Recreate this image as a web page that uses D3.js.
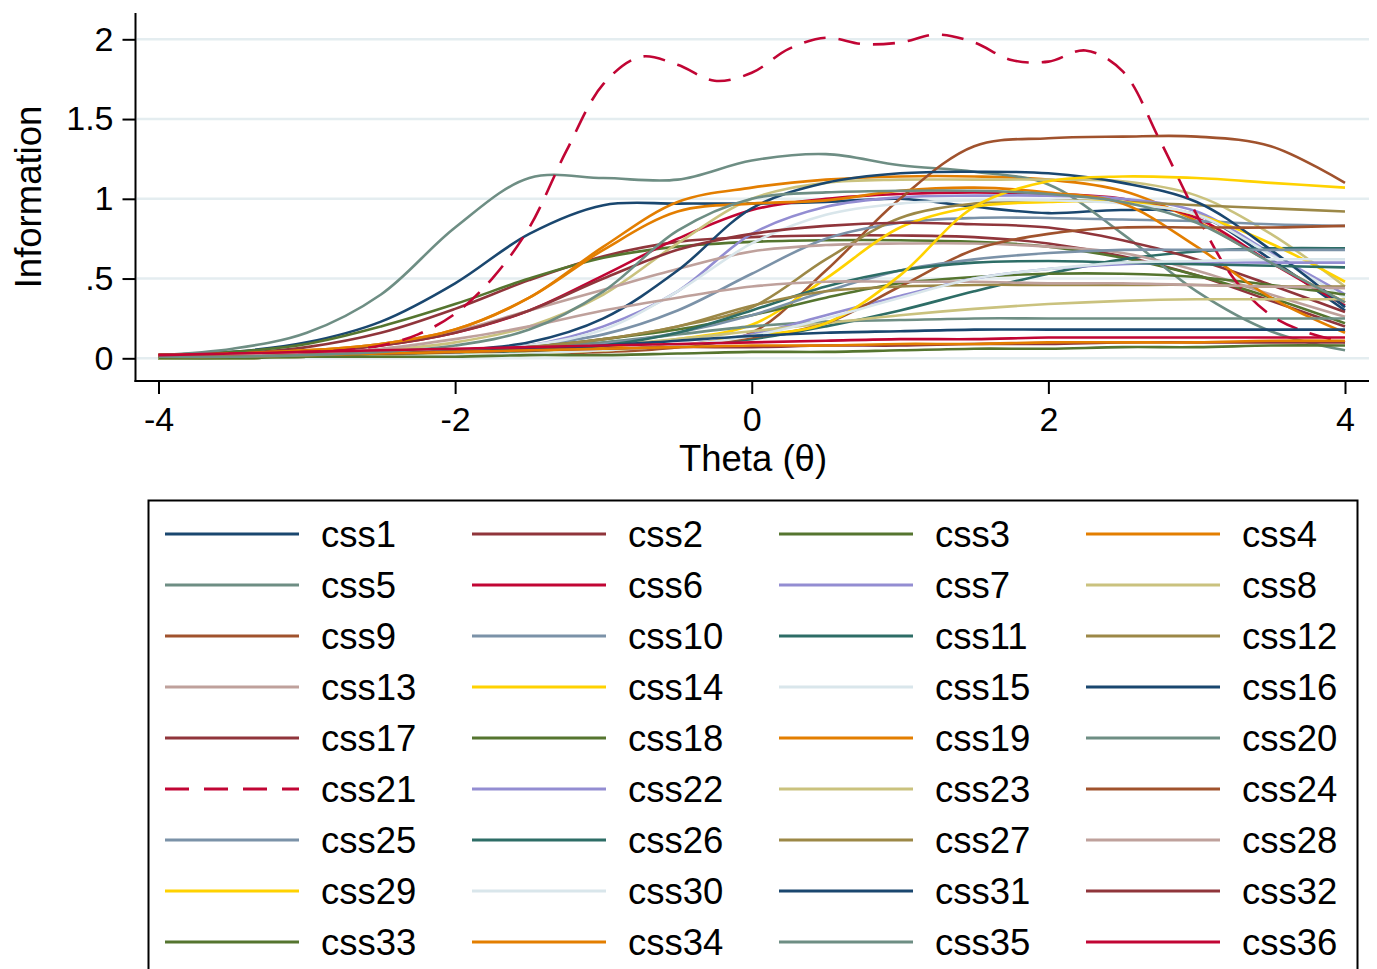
<!DOCTYPE html>
<html><head><meta charset="utf-8">
<script src="https://cdn.jsdelivr.net/npm/d3@7"></script>
<style>
body{margin:0;background:#fff}
svg text{font-family:"Liberation Sans",Arial,Helvetica,sans-serif;fill:#000}
</style>
</head><body>
<svg id="chart" width="1377" height="969"></svg>
<script>
const theta = [-4,-3.5,-3,-2.5,-2,-1.5,-1,-0.5,0,0.5,1,1.5,2,2.5,3,3.5,4];
const thetaFine = [-4,-3.75,-3.5,-3.25,-3,-2.75,-2.5,-2.25,-2,-1.75,-1.5,-1.25,-1,-0.75,-0.5,-0.25,0,0.25,0.5,0.75,1,1.25,1.5,1.75,2,2.25,2.5,2.75,3,3.25,3.5,3.75,4];

const css1 = [0.02,0.04,0.1,0.23,0.47,0.78,0.96,0.97,0.97,0.98,1.0,0.95,0.91,0.93,0.9,0.62,0.3];
const css2 = [0.02,0.03,0.07,0.16,0.31,0.49,0.64,0.73,0.76,0.77,0.77,0.76,0.72,0.64,0.52,0.36,0.2];
const css3 = [0.02,0.04,0.09,0.2,0.34,0.5,0.63,0.7,0.73,0.74,0.74,0.73,0.7,0.63,0.52,0.38,0.22];
const css4 = [0.02,0.03,0.05,0.09,0.18,0.38,0.7,0.98,1.07,1.12,1.14,1.14,1.12,1.05,0.86,0.6,0.35];
const css5 = [0.02,0.06,0.16,0.4,0.82,1.13,1.13,1.12,1.24,1.28,1.21,1.17,1.09,0.78,0.42,0.17,0.05];
const css6 = [0.02,0.02,0.04,0.08,0.16,0.3,0.52,0.75,0.93,1.0,1.03,1.04,1.03,1.0,0.88,0.6,0.33];
const css7 = [0.0,0.01,0.01,0.02,0.04,0.08,0.2,0.42,0.78,0.95,1.01,1.02,1.02,1.0,0.92,0.66,0.4];
const css8 = [0.01,0.01,0.02,0.05,0.1,0.2,0.4,0.72,1.0,1.1,1.12,1.12,1.12,1.11,1.02,0.78,0.45];
const css9 = [0.0,0.0,0.01,0.01,0.02,0.03,0.04,0.07,0.16,0.55,1.0,1.33,1.38,1.39,1.39,1.33,1.1];
const css10 = [0.0,0.01,0.01,0.02,0.04,0.08,0.15,0.3,0.53,0.75,0.85,0.88,0.88,0.87,0.86,0.84,0.83];
const css11 = [0.0,0.0,0.01,0.01,0.02,0.03,0.05,0.08,0.12,0.2,0.3,0.42,0.53,0.62,0.67,0.69,0.69];
const css12 = [0.0,0.01,0.01,0.02,0.04,0.07,0.12,0.2,0.32,0.62,0.88,0.97,0.99,0.98,0.96,0.94,0.92];
const css13 = [0.01,0.02,0.04,0.09,0.17,0.3,0.43,0.56,0.67,0.71,0.72,0.72,0.7,0.66,0.55,0.4,0.26];
const css14 = [0.0,0.0,0.01,0.01,0.02,0.04,0.07,0.12,0.21,0.5,0.82,0.95,0.98,0.98,0.9,0.72,0.48];
const css15 = [0.0,0.01,0.01,0.02,0.04,0.08,0.18,0.42,0.72,0.9,0.97,0.99,0.99,0.97,0.9,0.65,0.38];
const css16 = [0.0,0.01,0.01,0.02,0.05,0.1,0.25,0.55,0.94,1.1,1.16,1.17,1.16,1.1,0.98,0.68,0.32];
const css17 = [0.01,0.02,0.04,0.08,0.16,0.3,0.5,0.68,0.78,0.83,0.85,0.84,0.82,0.74,0.62,0.46,0.29];
const css18 = [0.0,0.01,0.01,0.02,0.04,0.07,0.12,0.18,0.27,0.38,0.47,0.51,0.53,0.53,0.51,0.46,0.4];
const css19 = [0.02,0.03,0.05,0.09,0.18,0.38,0.68,0.92,0.97,0.99,1.05,1.07,1.04,0.97,0.7,0.38,0.16];
const css20 = [0.01,0.01,0.02,0.03,0.05,0.07,0.1,0.15,0.2,0.23,0.24,0.25,0.25,0.25,0.25,0.25,0.25];
const css21 = [0.02,0.02,0.03,0.03,0.04,0.05,0.08,0.15,0.28,0.5,0.82,1.3,1.72,1.89,1.84,1.74,1.79,1.94,2.01,1.97,1.98,2.03,1.98,1.87,1.86,1.93,1.8,1.37,0.9,0.5,0.27,0.16,0.1];
const css22 = [0.0,0.0,0.01,0.01,0.02,0.03,0.05,0.08,0.15,0.27,0.39,0.5,0.56,0.59,0.6,0.6,0.6];
const css23 = [0.0,0.01,0.01,0.02,0.03,0.05,0.08,0.12,0.17,0.22,0.27,0.31,0.34,0.36,0.37,0.37,0.37];
const css24 = [0.0,0.0,0.01,0.01,0.02,0.03,0.05,0.08,0.13,0.22,0.45,0.68,0.78,0.82,0.82,0.82,0.83];
const css25 = [0.0,0.0,0.01,0.02,0.03,0.05,0.09,0.16,0.27,0.42,0.55,0.62,0.66,0.68,0.68,0.68,0.68];
const css26 = [0.0,0.0,0.01,0.01,0.02,0.04,0.08,0.16,0.3,0.45,0.55,0.6,0.61,0.6,0.59,0.58,0.57];
const css27 = [0.0,0.01,0.01,0.02,0.04,0.07,0.12,0.2,0.33,0.42,0.45,0.46,0.46,0.46,0.46,0.45,0.45];
const css28 = [0.01,0.02,0.03,0.06,0.12,0.2,0.3,0.38,0.45,0.48,0.48,0.48,0.47,0.47,0.46,0.45,0.44];
const css29 = [0.0,0.0,0.01,0.01,0.02,0.03,0.05,0.08,0.14,0.22,0.52,0.95,1.11,1.14,1.13,1.1,1.07];
const css30 = [0.0,0.0,0.01,0.01,0.02,0.03,0.05,0.08,0.14,0.25,0.38,0.5,0.56,0.6,0.61,0.62,0.62];
const css31 = [0.01,0.01,0.02,0.03,0.04,0.06,0.08,0.11,0.14,0.16,0.17,0.18,0.18,0.18,0.18,0.18,0.18];
const css32 = [0.01,0.01,0.02,0.03,0.04,0.05,0.06,0.07,0.07,0.08,0.08,0.09,0.09,0.1,0.1,0.1,0.1];
const css33 = [0.0,0.0,0.01,0.01,0.01,0.02,0.02,0.03,0.04,0.04,0.05,0.06,0.06,0.07,0.07,0.08,0.08];
const css34 = [0.01,0.01,0.02,0.03,0.04,0.05,0.06,0.07,0.08,0.08,0.09,0.09,0.1,0.1,0.1,0.11,0.11];
const css35 = [0.01,0.01,0.02,0.04,0.08,0.18,0.42,0.8,1.0,1.04,1.05,1.05,1.03,0.98,0.85,0.6,0.35];
const css36 = [0.02,0.03,0.04,0.05,0.06,0.07,0.08,0.09,0.1,0.11,0.12,0.12,0.13,0.13,0.13,0.13,0.13];

const palette = ["#1a476f","#90353b","#55752f","#e37e00","#6e8e84","#c10534","#938dd2","#cac27e","#a0522d","#7b92a8","#2d6d66","#9c8847","#bfa19c","#ffd200","#d9e6eb"];
const xTicks = [-4,-2,0,2,4];
const xTickLabels = ["-4","-2","0","2","4"];
const yTicks = [0,0.5,1,1.5,2];
const yTickLabels = ["0",".5","1","1.5","2"];
const xTitle = "Theta (\u03B8)";
const yTitle = "Information";

const allValues = [css1,css2,css3,css4,css5,css6,css7,css8,css9,css10,css11,css12,css13,css14,css15,css16,css17,css18,css19,css20,css21,css22,css23,css24,css25,css26,css27,css28,css29,css30,css31,css32,css33,css34,css35,css36];
const series = allValues.map((vals,i)=>{
  const xs = vals.length === thetaFine.length ? thetaFine : theta;
  return {name:"css"+(i+1), color:palette[i%15], dashed: i===20,
          points: vals.map((v,j)=>({t:xs[j], v:v}))};
});

const svg = d3.select("#chart");
svg.append("rect").attr("width",1377).attr("height",969).attr("fill","#fff");

const x = d3.scaleLinear().domain([-4,4]).range([158.5,1345]);
const y = d3.scaleLinear().domain([0,2]).range([358.3,39.3]);
const FS = 34;

// gridlines
svg.append("g").selectAll("line").data(yTicks).join("line")
  .attr("x1",137).attr("x2",1369).attr("y1",d=>y(d)).attr("y2",d=>y(d))
  .attr("stroke","#e4edf0").attr("stroke-width",2.5);

// curves
const line = d3.line().x(d=>x(d.t)).y(d=>Math.min(y(0)+1,y(d.v))).curve(d3.curveCatmullRom.alpha(0.5));
svg.append("g").selectAll("path").data(series).join("path")
  .attr("d",d=>line(d.points)).attr("fill","none")
  .attr("stroke",d=>d.color).attr("stroke-width",2.6)
  .attr("stroke-dasharray",d=>d.dashed?"22,13":null)
  .attr("stroke-linejoin","round");

// axes
const yAxis = d3.axisLeft(y).tickValues(yTicks).tickFormat((d,i)=>yTickLabels[i]).tickSize(13).tickPadding(9);
const gy = svg.append("g").attr("transform","translate(135.5,0)").call(yAxis);
gy.select(".domain").remove();
gy.selectAll(".tick line").attr("stroke","#000").attr("stroke-width",2);
gy.selectAll(".tick text").attr("font-size",FS).attr("font-family",null).attr("fill","#000");
svg.append("line").attr("x1",135.5).attr("x2",135.5).attr("y1",13).attr("y2",382).attr("stroke","#000").attr("stroke-width",2);

const xAxis = d3.axisBottom(x).tickValues(xTicks).tickFormat((d,i)=>xTickLabels[i]).tickSize(13).tickPadding(13);
const gx = svg.append("g").attr("transform","translate(0,381)").call(xAxis);
gx.select(".domain").remove();
gx.selectAll(".tick line").attr("stroke","#000").attr("stroke-width",2);
gx.selectAll(".tick text").attr("font-size",FS).attr("font-family",null).attr("fill","#000");
svg.append("line").attr("x1",134.5).attr("x2",1369).attr("y1",381).attr("y2",381).attr("stroke","#000").attr("stroke-width",2);

svg.append("text").attr("x",753).attr("y",471).attr("text-anchor","middle").attr("font-size",36.5).text(xTitle);
svg.append("text").attr("transform","translate(41,197) rotate(-90)").attr("text-anchor","middle").attr("font-size",36.5).text(yTitle);

// legend
svg.append("rect").attr("x",148.5).attr("y",500.5).attr("width",1209).attr("height",520)
  .attr("fill","#fff").attr("stroke","#000").attr("stroke-width",2);
const lg = svg.append("g").selectAll("g").data(series).join("g")
  .attr("transform",(d,i)=>`translate(${165+307*(i%4)},${534+51*Math.floor(i/4)})`);
lg.append("line").attr("x1",0).attr("x2",134).attr("y1",0).attr("y2",0)
  .attr("stroke",d=>d.color).attr("stroke-width",3)
  .attr("stroke-dasharray",d=>d.dashed?"24,15":null);
lg.append("text").attr("x",156).attr("y",0).attr("dy","0.36em").attr("font-size",36.5).text(d=>d.name);
</script>
</body></html>
